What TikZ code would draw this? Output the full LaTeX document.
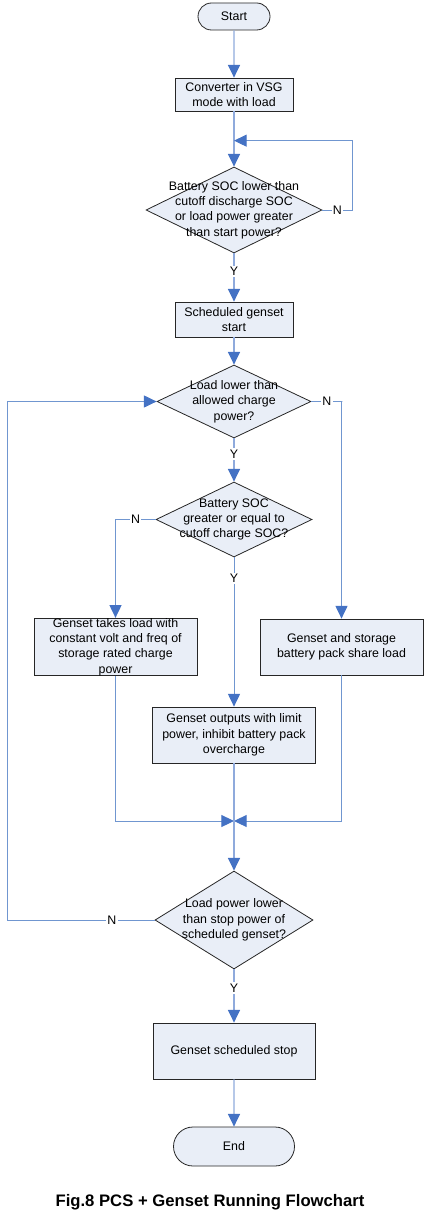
\documentclass[tikz,border=0pt]{standalone}
\usepackage{fontspec}
\setmainfont{Liberation Sans}
\usetikzlibrary{shapes.geometric,shapes.misc,arrows.meta,calc}

\definecolor{boxfill}{HTML}{E9EEF7}
\definecolor{flowline}{HTML}{8FAADC}
\definecolor{loopline}{HTML}{7096D0}
\definecolor{tipblue}{HTML}{4472C4}

\tikzset{
  flowtext/.style={font=\fontsize{9.3}{11.5}\selectfont, align=center},
  term/.style={rounded rectangle, draw=black!85, fill=boxfill, line width=0.6pt, flowtext, inner sep=0pt},
  procbox/.style={rectangle, draw=black!85, fill=boxfill, line width=0.6pt, flowtext, inner sep=0pt},
  decbox/.style={diamond, draw=black!85, fill=boxfill, line width=0.6pt, inner sep=0pt},
  dectext/.style={flowtext, inner sep=0pt},
  tip/.style={-{Triangle[length=9.5pt,width=9pt,color=tipblue]}},
  flow/.style={draw=flowline, line width=1.1pt, tip},
  loop/.style={draw=loopline, line width=0.75pt},
  yn/.style={fill=white, font=\fontsize{9.3}{11}\selectfont, inner sep=1pt},
}

\begin{document}
\begin{tikzpicture}[x=0.75pt,y=-0.75pt]
  \useasboundingbox (0,0) rectangle (446,1220);

  % main column
  \node[term, minimum width=54pt, minimum height=20.25pt] (start) at (234,16.5) {Start};
  \node[procbox, minimum width=88.5pt, minimum height=24.75pt] (conv) at (234,94.5) {Converter in VSG\\mode with load};
  \node[decbox, minimum width=132pt, minimum height=64.5pt,
        label={[dectext]center:{Battery SOC lower than\\cutoff discharge SOC\\or load power greater\\than start power?}}] (socdis) at (234,210) {};
  \node[procbox, minimum width=88.5pt, minimum height=26.25pt] (gstart) at (234,319.5) {Scheduled genset\\start};
  \node[decbox, minimum width=115.5pt, minimum height=54.75pt,
        label={[dectext]center:{Load lower than\\allowed charge\\power?}}] (loadchg) at (234,401.5) {};
  \node[decbox, minimum width=117pt, minimum height=56.25pt,
        label={[dectext]center:{Battery SOC\\greater or equal to\\cutoff charge SOC?}}] (socchg) at (234,519.5) {};

  % three branches
  \node[procbox, minimum width=122.25pt, minimum height=42pt] (takes) at (115.5,647) {Genset takes load with\\constant volt and freq of\\storage rated charge\\power};
  \node[procbox, minimum width=122.25pt, minimum height=42pt] (share) at (341.5,647) {Genset and storage\\battery pack share load};
  \node[procbox, minimum width=122.25pt, minimum height=42pt] (limit) at (234,735) {Genset outputs with limit\\power, inhibit battery pack\\overcharge};
  \coordinate (merge) at (234,821);

  % stop part
  \node[decbox, minimum width=118.5pt, minimum height=73.5pt,
        label={[dectext]center:{Load power lower\\than stop power of\\scheduled genset?}}] (loadstop) at (234,920) {};
  \node[procbox, minimum width=121.5pt, minimum height=42pt] (gstop) at (234,1051) {Genset scheduled stop};
  \node[term, minimum width=90.75pt, minimum height=29.25pt] (end) at (234,1146.5) {End};

  \node[font=\bfseries\fontsize{12.5}{14}\selectfont] (caption) at (210,1202) {Fig.8 PCS + Genset Running Flowchart};

  % connectors
  \draw[flow] (start) -- (conv);
  \draw[flow] (conv) -- (socdis);
  \draw[loop, tip] (socdis.east) -- node[yn]{N} ++(30,0) |- ($(conv.south)!0.53!(socdis.north)$);
  \draw[flow] (socdis) -- node[yn, pos=0.37]{Y} (gstart);
  \draw[flow] (gstart) -- (loadchg);
  \draw[loop, tip] (loadchg.east) -- node[yn]{N} ++(31,0) -- (loadchg.east -| share.north) -- (share.north);
  \draw[flow] (loadchg) -- node[yn, pos=0.36]{Y} (socchg);
  \draw[loop, tip] (socchg.west) -| node[yn, pos=0.25]{N} (takes.north);
  \draw[loop, tip] (socchg) -- node[yn, pos=0.14]{Y} (limit);
  \draw[loop, tip] (takes.south) |- (merge);
  \draw[loop, tip] (share.south) |- (merge);
  \draw[flow] (limit) -- (loadstop);
  \draw[loop, tip] (loadstop.west) -- node[yn, pos=0.29]{N} ++(-147,0) |- (loadchg.west);
  \draw[flow] (loadstop) -- node[yn, pos=0.35]{Y} (gstop);
  \draw[flow] (gstop) -- (end);
\end{tikzpicture}
\end{document}
